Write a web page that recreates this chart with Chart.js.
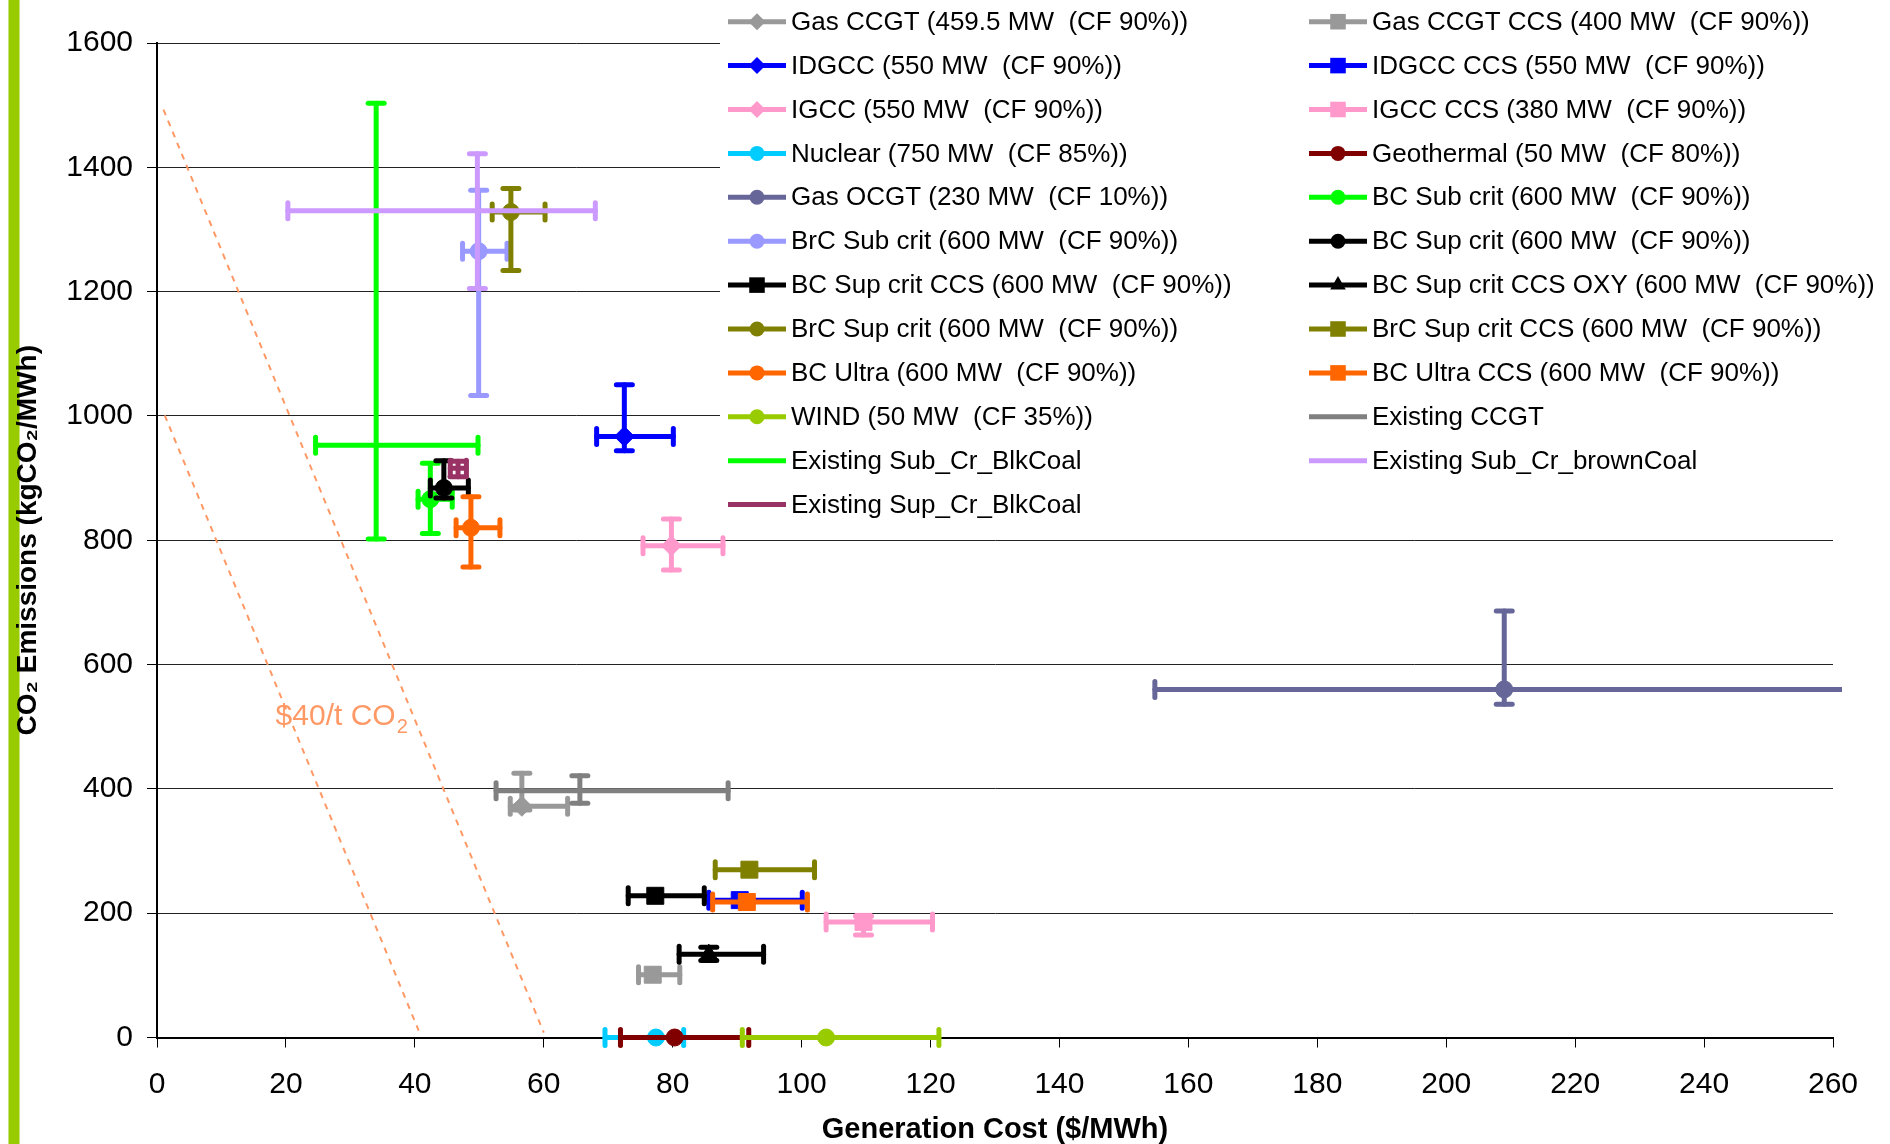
<!DOCTYPE html>
<html>
<head>
<meta charset="utf-8">
<script src="https://cdn.jsdelivr.net/npm/chart.js@4.4.1/dist/chart.umd.min.js"></script>
<style>
html,body{margin:0;padding:0;background:#fff;width:1890px;height:1144px;overflow:hidden;}
#bar{position:absolute;left:8px;top:0;width:12px;height:1144px;background:#99CC00;border-left:1px solid #C8E27A;border-right:1px solid #C8E27A;box-sizing:border-box;}
#c{position:absolute;left:0;top:0;}
</style>
</head>
<body>
<div id="bar"></div>
<canvas id="c" width="1890" height="1144"></canvas>
<script>
// ---------------- DATA ----------------
const seriesNames = [
  'Gas CCGT (459.5 MW  (CF 90%))',
  'Gas CCGT CCS (400 MW  (CF 90%))',
  'IDGCC (550 MW  (CF 90%))',
  'IDGCC CCS (550 MW  (CF 90%))',
  'IGCC (550 MW  (CF 90%))',
  'IGCC CCS (380 MW  (CF 90%))',
  'Nuclear (750 MW  (CF 85%))',
  'Geothermal (50 MW  (CF 80%))',
  'Gas OCGT (230 MW  (CF 10%))',
  'BC Sub crit (600 MW  (CF 90%))',
  'BrC Sub crit (600 MW  (CF 90%))',
  'BC Sup crit (600 MW  (CF 90%))',
  'BC Sup crit CCS (600 MW  (CF 90%))',
  'BC Sup crit CCS OXY (600 MW  (CF 90%))',
  'BrC Sup crit (600 MW  (CF 90%))',
  'BrC Sup crit CCS (600 MW  (CF 90%))',
  'BC Ultra (600 MW  (CF 90%))',
  'BC Ultra CCS (600 MW  (CF 90%))',
  'WIND (50 MW  (CF 35%))',
  'Existing CCGT',
  'Existing Sub_Cr_BlkCoal',
  'Existing Sub_Cr_brownCoal',
  'Existing Sup_Cr_BlkCoal'
];
// generation cost ($/MWh) - central value
const costX  = [56.6, 76.9, 72.5, 90.4, 79.8, 109.6, 77.4, 80.3, 209.0, 42.4, 49.9, 44.5, 77.3, 85.6, 54.9, 91.9, 48.7, 91.5, 103.8, 65.6, 34.0, 49.7, 46.7];
// CO2 emissions (kgCO2/MWh) - central value
const co2Y   = [372, 101, 967, 221, 791, 186, 0, 0, 560, 866, 1265, 884, 228, 134, 1328, 270, 820, 218, 0, 397, 953, 1330, 916];
// cost range (error bar ends)
const costLow  = [54.8, 74.7, 68.2, 85.6, 75.4, 103.8, 69.5, 71.9, 154.8, 40.5, 47.4, 42.4, 73.1, 81.0, 52.0, 86.6, 46.4, 86.2, 90.8, 52.6, 24.6, 20.3, 45.5];
const costHigh = [63.7, 81.1, 80.1, 100.1, 87.8, 120.3, 81.7, 91.8, 262.0, 45.8, 54.3, 48.3, 84.9, 94.1, 60.2, 102.0, 53.2, 100.9, 121.3, 88.6, 49.8, 68.0, 48.0];
// emissions range (error bar ends), null = no vertical bar
const co2Low  = [366, null, 944, null, 752, 165, null, null, 536, 811, 1033, 868, null, 124, 1234, null, 757, null, null, 377, 802, 1205, 902];
const co2High = [425, null, 1050, null, 834, 195, null, null, 686, 924, 1363, 928, null, 145, 1366, null, 870, null, null, 421, 1503, 1422, 927];
// $40/t CO2 reference lines
const priceLine1X = [1.0, 60.0];
const priceLine1Y = [1493, 8];
const priceLine2X = [1.2, 40.6];
const priceLine2Y = [1001, 11];
const priceLabel = '$40/t CO';
const priceLabelSub = '2';
const priceLabelAt = [18.4, 503];
// axis ticks
const xTickMin = 0, xTickMax = 260, xTickStep = 20;
const yTickMin = 0, yTickMax = 1600, yTickStep = 200;

// ---------------- STYLES ----------------
const seriesColors = ['#999999','#999999','#0000FF','#0000FF','#FF99CC','#FF99CC','#00CCFF','#800000','#666699','#00FF00','#9999FF','#000000','#000000','#000000','#808000','#808000','#FF6600','#FF6600','#99CC00','#808080','#00FF00','#CC99FF','#993366'];
const seriesMarkers = ['rectRot','rect','rectRot','rect','rectRot','rect','circle','circle','circle','circle','circle','circle','rect','triangle','circle','rect','circle','rect','circle',null,null,null,null];
const markerRadius = {rectRot:10, rect:12, circle:8.5, triangle:10};
const FONT = "'Liberation Sans', Arial, Helvetica, sans-serif";
Chart.defaults.font.family = FONT;
Chart.defaults.color = '#000';

const datasets = seriesNames.map((name, i) => ({
  label: name,
  data: [{x: costX[i], y: co2Y[i]}],
  pointStyle: seriesMarkers[i] || false,
  pointRadius: seriesMarkers[i] ? markerRadius[seriesMarkers[i]] : 0,
  pointHoverRadius: seriesMarkers[i] ? markerRadius[seriesMarkers[i]] : 0,
  backgroundColor: seriesColors[i],
  borderColor: seriesColors[i],
  pointBorderWidth: 1,
  showLine: false,
  clip: false,
  order: -i
}));
datasets.push({
  label: 'price1', data: priceLine1X.map((x, k) => ({x, y: priceLine1Y[k]})),
  showLine: true, borderColor: '#FF9966', borderWidth: 2, borderDash: [6, 6], pointRadius: 0, order: 100, clip: false
});
datasets.push({
  label: 'price2', data: priceLine2X.map((x, k) => ({x, y: priceLine2Y[k]})),
  showLine: true, borderColor: '#FF9966', borderWidth: 2, borderDash: [6, 6], pointRadius: 0, order: 100, clip: false
});

function drawMarker(ctx, style, x, y, r, color) {
  ctx.fillStyle = color;
  ctx.beginPath();
  if (style === 'circle') ctx.arc(x, y, r, 0, Math.PI * 2);
  else if (style === 'rect') { const s = r * Math.SQRT1_2; ctx.rect(x - s, y - s, 2 * s, 2 * s); }
  else if (style === 'rectRot') { ctx.moveTo(x, y - r); ctx.lineTo(x + r, y); ctx.lineTo(x, y + r); ctx.lineTo(x - r, y); ctx.closePath(); }
  else if (style === 'triangle') { ctx.moveTo(x, y - r); ctx.lineTo(x + r * 0.866, y + r * 0.5); ctx.lineTo(x - r * 0.866, y + r * 0.5); ctx.closePath(); }
  ctx.fill();
}

const errorBarPlugin = {
  id: 'errorBars',
  beforeDatasetDraw(chart, args) {
    const i = args.index;
    if (i >= seriesNames.length) return;
    const xs = chart.scales.x, ys = chart.scales.y, ctx = chart.ctx, ca = chart.chartArea;
    const cx = xs.getPixelForValue(costX[i]), cy = ys.getPixelForValue(co2Y[i]);
    const cap = 8;
    ctx.save();
    ctx.beginPath();
    ctx.rect(ca.left - 30, 0, ca.right + 9 - (ca.left - 30), ca.bottom + 30);
    ctx.clip();
    ctx.strokeStyle = seriesColors[i];
    ctx.lineWidth = 5;
    ctx.lineCap = 'round';
    const seg = (x1, y1, x2, y2) => { ctx.beginPath(); ctx.moveTo(x1, y1); ctx.lineTo(x2, y2); ctx.stroke(); };
    if (costLow[i] != null) {
      const a = xs.getPixelForValue(costLow[i]), b = xs.getPixelForValue(costHigh[i]);
      seg(a, cy, b, cy);
      seg(a, cy - cap, a, cy + cap);
      seg(b, cy - cap, b, cy + cap);
    }
    if (co2Low[i] != null) {
      const a = ys.getPixelForValue(co2Low[i]), b = ys.getPixelForValue(co2High[i]);
      seg(cx, a, cx, b);
      seg(cx - cap, a, cx + cap, a);
      seg(cx - cap, b, cx + cap, b);
    }
    ctx.restore();
  }
};

const overlayPlugin = {
  id: 'overlay',
  afterDatasetsDraw(chart) {
    const ctx = chart.ctx, xs = chart.scales.x, ys = chart.scales.y;
    ctx.save();
    ctx.fillStyle = '#FF9966';
    ctx.textBaseline = 'alphabetic';
    ctx.textAlign = 'left';
    const lx = xs.getPixelForValue(priceLabelAt[0]), ly = ys.getPixelForValue(priceLabelAt[1]);
    ctx.font = '30px ' + FONT;
    ctx.fillText(priceLabel, lx, ly);
    const w = ctx.measureText(priceLabel).width;
    ctx.font = '20px ' + FONT;
    ctx.fillText(priceLabelSub, lx + w + 1, ly + 8);
    ctx.restore();
  },
  afterDraw(chart) {
    const ctx = chart.ctx;
    ctx.save();
    ctx.fillStyle = '#fff';
    ctx.fillRect(720, 0, 1890 - 720, 528);
    ctx.font = '26px ' + FONT;
    ctx.textBaseline = 'middle';
    ctx.textAlign = 'left';
    const colX = [728, 1309];
    for (let i = 0; i < seriesNames.length; i++) {
      const col = i % 2, row = Math.floor(i / 2);
      const x0 = colX[col], y = 21.7 + row * 43.9;
      ctx.strokeStyle = seriesColors[i];
      ctx.lineWidth = 5;
      ctx.lineCap = 'butt';
      ctx.beginPath(); ctx.moveTo(x0, y); ctx.lineTo(x0 + 58, y); ctx.stroke();
      if (seriesMarkers[i]) {
        const st = seriesMarkers[i];
        const r = st === 'rect' ? 11 : st === 'triangle' ? 9 : st === 'rectRot' ? 8.5 : 7.5;
        drawMarker(ctx, st, x0 + 29, y, r, seriesColors[i]);
      }
      ctx.fillStyle = '#000';
      ctx.fillText(seriesNames[i], x0 + 63, y + 1);
    }
    ctx.restore();
  }
};

new Chart(document.getElementById('c'), {
  type: 'scatter',
  data: { datasets },
  plugins: [errorBarPlugin, overlayPlugin],
  options: {
    responsive: false,
    animation: false,
    events: [],
    layout: { padding: { left: 0, top: 43, right: 57, bottom: 0 } },
    plugins: { legend: { display: false }, tooltip: { enabled: false } },
    scales: {
      x: {
        type: 'linear', min: xTickMin, max: xTickMax,
        ticks: { stepSize: xTickStep, padding: 19, font: { size: 30 }, color: '#000', maxRotation: 0, autoSkip: false,
                 callback: v => String(v) },
        grid: { drawOnChartArea: false, drawTicks: true, tickLength: 10, tickColor: '#000', tickWidth: 1 },
        border: { display: true, color: '#000', width: 2 },
        title: { display: true, text: 'Generation Cost ($/MWh)', font: { size: 29, weight: 'bold' }, color: '#000', padding: { top: 0, bottom: -3 } },
        afterFit(scale) { scale.height = 106.5; }
      },
      y: {
        type: 'linear', min: yTickMin, max: yTickMax,
        ticks: { stepSize: yTickStep, padding: 14, font: { size: 30 }, color: '#000', callback: v => String(v) },
        grid: { color: '#222', lineWidth: 1, drawTicks: true, tickLength: 10, tickColor: '#000' },
        border: { display: true, color: '#000', width: 2 },
        title: { display: true, text: 'CO₂ Emissions (kgCO₂/MWh)', font: { size: 28, weight: 'bold' }, color: '#000', padding: { top: 11, bottom: 0 } },
        afterFit(scale) { scale.width = 157; }
      }
    }
  }
});
</script>
</body>
</html>
